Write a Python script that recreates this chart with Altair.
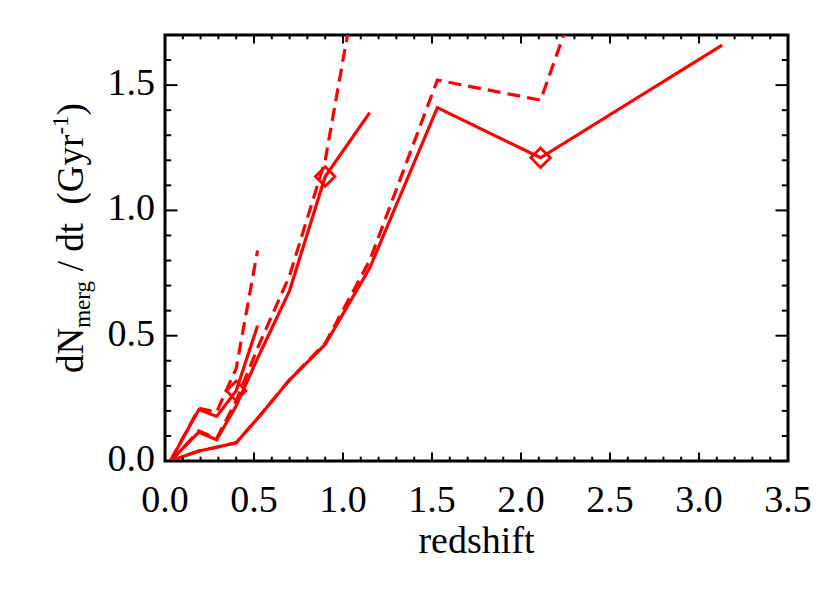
import altair as alt
import pandas as pd

# ---------------- data ----------------
z_grid = [0.03, 0.19, 0.29, 0.40, 0.52, 0.70, 0.90, 1.15, 1.53, 2.11, 3.13]

g1_solid = [0.0, 0.205, 0.178, 0.28, 0.54]
g1_dashed = [0.0, 0.21, 0.195, 0.37, 0.84]
g2_solid = [0.0, 0.115, 0.085, 0.22, 0.41, 0.68, 1.135, 1.39]
g2_dashed = [0.0, 0.12, 0.09, 0.24, 0.45, 0.74, 1.20, 2.20]
g3_solid = [0.0, 0.04, 0.055, 0.073, 0.17, 0.324, 0.465, 0.77, 1.41, 1.21, 1.66]
g3_dashed = [0.0, 0.04, 0.055, 0.073, 0.17, 0.324, 0.47, 0.80, 1.52, 1.44, 3.48]

marker_z = [0.40, 0.90, 2.11]
marker_val = [0.28, 1.135, 1.21]

x_major = [0.0, 0.5, 1.0, 1.5, 2.0, 2.5, 3.0, 3.5]
x_labels = ["0.0", "0.5", "1.0", "1.5", "2.0", "2.5", "3.0", "3.5"]
x_minor = [round(i * 0.1, 2) for i in range(36) if i % 5 != 0]
y_major = [0.0, 0.5, 1.0, 1.5]
y_labels = ["0.0", "0.5", "1.0", "1.5"]
y_minor = [round(i * 0.1, 2) for i in range(18) if i % 5 != 0]

x_title = "redshift"

# ---------------- build tables ----------------
def series_rows(name, vals):
    return [{"series": name, "z": z_grid[i], "v": v} for i, v in enumerate(vals)]

solid_df = pd.DataFrame(series_rows("g1", g1_solid) + series_rows("g2", g2_solid) + series_rows("g3", g3_solid))
dashed_df = pd.DataFrame(series_rows("g1", g1_dashed) + series_rows("g2", g2_dashed) + series_rows("g3", g3_dashed))
marker_df = pd.DataFrame({"z": marker_z, "v": marker_val})
xmaj_df = pd.DataFrame({"t": x_major, "lab": x_labels})
xmin_df = pd.DataFrame({"t": x_minor})
ymaj_df = pd.DataFrame({"t": y_major, "lab": y_labels})
ymin_df = pd.DataFrame({"t": y_minor})

W, H = 623, 426
FONT = "Liberation Serif"
RED = "#ff0000"

xs = alt.Scale(domain=[0, 3.5], nice=False, zero=False)
ys = alt.Scale(domain=[0, 1.7], nice=False, zero=False)

def X(f="z"):
    return alt.X(f"{f}:Q", scale=xs, axis=None)

def Y(f="v"):
    return alt.Y(f"{f}:Q", scale=ys, axis=None)

solid = alt.Chart(solid_df).mark_line(clip=True, color=RED, strokeWidth=3.2).encode(
    x=X(), y=Y(), detail="series:N")
dashed = alt.Chart(dashed_df).mark_line(clip=True, color=RED, strokeWidth=3.2, strokeDash=[13, 7]).encode(
    x=X(), y=Y(), detail="series:N")
markers = alt.Chart(marker_df).mark_point(shape="diamond", size=380, filled=False,
                                          color=RED, strokeWidth=2.8, opacity=1).encode(x=X(), y=Y())

# ---------------- IDL-style inward ticks ----------------
TK = dict(color="black", strokeWidth=2)
layers_ticks = []
for df, ln in [(xmaj_df, 8.5), (xmin_df, 4.3)]:
    layers_ticks.append(alt.Chart(df).mark_rule(**TK).encode(x=X("t"), y=alt.value(H), y2=alt.value(H - ln)))
    layers_ticks.append(alt.Chart(df).mark_rule(**TK).encode(x=X("t"), y=alt.value(0), y2=alt.value(ln)))
for df, ln in [(ymaj_df, 12.5), (ymin_df, 6.2)]:
    layers_ticks.append(alt.Chart(df).mark_rule(**TK).encode(y=Y("t"), x=alt.value(0), x2=alt.value(ln)))
    layers_ticks.append(alt.Chart(df).mark_rule(**TK).encode(y=Y("t"), x=alt.value(W), x2=alt.value(W - ln)))

# ---------------- tick labels ----------------
xlab = alt.Chart(xmaj_df).mark_text(font=FONT, fontSize=38, align="center", baseline="alphabetic",
                                    color="black").encode(x=X("t"), y=alt.value(H + 51), text="lab:N")
ylab = alt.Chart(ymaj_df).mark_text(font=FONT, fontSize=38, align="right", baseline="alphabetic",
                                    dy=10, color="black").encode(y=Y("t"), x=alt.value(-10), text="lab:N")

xtitle = alt.Chart(pd.DataFrame({"t": [x_title]})).mark_text(
    font=FONT, fontSize=38, align="center", baseline="alphabetic", color="black").encode(
    x=alt.value(W / 2), y=alt.value(H + 92), text="t:N")

# ---------------- y title with sub/superscripts ----------------
em = {"d": .5, "N": .722, "m": .778, "e": .444, "r": .333, "g": .5, "/": .278, " ": .25,
      "t": .278, "(": .333, "G": .722, "y": .5, ")": .333, "-": .333, "1": .5}
def width(s, fs):
    return sum(em[c] for c in s) * fs

pieces = [("dN", 37, 0, 0), ("merg", 23, 7, 0), ("/ dt", 37, 0, 37 * .25),
          ("(Gyr", 37, 0, 37 * .5), ("-1", 23, -15, 0), (")", 37, 0, 0)]
ytitle_layers = []
pos = 338.0
for txt, fs, shift, gap in pieces:
    pos -= gap
    ytitle_layers.append(
        alt.Chart(pd.DataFrame({"t": [txt]})).mark_text(
            font=FONT, fontSize=fs, align="left", baseline="alphabetic", angle=270, color="black").encode(
            x=alt.value(-82 + shift), y=alt.value(pos), text="t:N"))
    pos -= width(txt, fs)

chart = alt.layer(solid, dashed, markers, *layers_ticks, xlab, ylab, xtitle, *ytitle_layers).properties(
    width=W, height=H,
    autosize=alt.AutoSizeParams(type="none"),
    padding={"left": 157, "top": 27, "right": 34, "bottom": 110},
    background="white",
).configure_view(stroke="black", strokeWidth=3)

chart.save("out.html", embed_options={"renderer": "svg", "actions": False})
